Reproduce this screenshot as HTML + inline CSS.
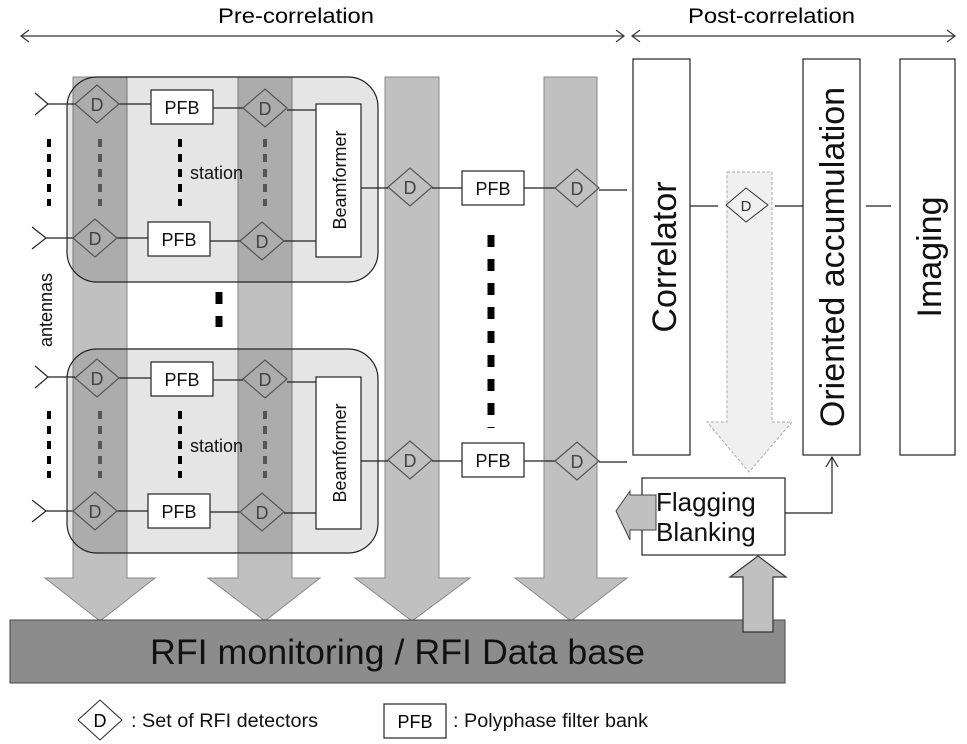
<!DOCTYPE html>
<html><head><meta charset="utf-8"><style>
html,body{margin:0;padding:0;background:#fff;}
svg{display:block;font-family:"Liberation Sans",sans-serif;}
</style></head><body>
<svg width="967" height="744" viewBox="0 0 967 744" xmlns="http://www.w3.org/2000/svg">
<defs>
<g id="dm"><polygon points="-22,0 0,-19 22,0 0,19" fill="none" stroke="#555" stroke-width="1.2"/><text x="0" y="7" font-size="18" text-anchor="middle" fill="#444">D</text></g>
</defs>
<!-- top arrows -->
<text x="218" y="23" font-size="21" textLength="156" lengthAdjust="spacingAndGlyphs">Pre-correlation</text>
<text x="688" y="23" font-size="21" textLength="167" lengthAdjust="spacingAndGlyphs">Post-correlation</text>
<g stroke="#333" stroke-width="1.2" fill="none">
<line x1="21" y1="36" x2="624" y2="36"/><polyline points="29,30 21,36 29,42"/><polyline points="616,30 624,36 616,42"/>
<line x1="632" y1="36" x2="955" y2="36"/><polyline points="640,30 632,36 640,42"/><polyline points="947,30 955,36 947,42"/>
</g>
<!-- big down arrows -->
<g fill="#c0c0c0" stroke="#888" stroke-width="1">
<polygon points="73,77 127,77 127,578 155,578 100,621 45,578 73,578"/>
<polygon points="238,77 292,77 292,578 320,578 265,621 208,578 238,578"/>
<polygon points="385,77 439,77 439,578 470,578 412,621 355,578 385,578"/>
<polygon points="544,77 597,77 597,578 627,578 571,621 515,578 544,578"/>
</g>
<!-- station boxes -->
<rect x="67" y="77" width="311" height="205" rx="30" fill="#000" fill-opacity="0.1" stroke="#222" stroke-width="1.2"/>
<rect x="67" y="349" width="311" height="204" rx="30" fill="#000" fill-opacity="0.1" stroke="#222" stroke-width="1.2"/>
<!-- bottom bar -->
<rect x="10" y="620" width="775" height="63" fill="#8c8c8c" stroke="#444" stroke-width="1"/>
<text x="150" y="664" font-size="35" textLength="495" lengthAdjust="spacingAndGlyphs" fill="#111">RFI monitoring / RFI Data base</text>
<!-- station 1 -->
<g stroke="#222" stroke-width="1.2" fill="none">
<polyline points="35,93 48,104 35,115"/><polyline points="32,227 46,238 32,249"/>
<line x1="48" y1="104" x2="75" y2="104"/><line x1="46" y1="238" x2="73" y2="238"/>
<line x1="119" y1="104" x2="151" y2="104"/><line x1="213" y1="108" x2="243" y2="108"/>
<line x1="117" y1="238" x2="148" y2="238"/><line x1="210" y1="241" x2="240" y2="241"/>
<line x1="287" y1="110" x2="316" y2="110"/><line x1="284" y1="241" x2="316" y2="241"/>
<line x1="361" y1="188" x2="388" y2="188"/><line x1="432" y1="188" x2="462" y2="188"/><line x1="524" y1="188" x2="555" y2="188"/><line x1="599" y1="190" x2="627" y2="190"/>
<polyline points="35,366 48,377 35,388"/><polyline points="32,500 46,511 32,522"/>
<line x1="48" y1="377" x2="75" y2="377"/><line x1="46" y1="511" x2="73" y2="511"/>
<line x1="119" y1="378" x2="151" y2="378"/><line x1="213" y1="380" x2="243" y2="380"/>
<line x1="117" y1="511" x2="148" y2="511"/><line x1="210" y1="512" x2="240" y2="512"/>
<line x1="287" y1="382" x2="316" y2="382"/><line x1="284" y1="513" x2="316" y2="513"/>
<line x1="361" y1="461" x2="388" y2="461"/><line x1="432" y1="461" x2="462" y2="461"/><line x1="524" y1="461" x2="555" y2="461"/><line x1="599" y1="462" x2="627" y2="462"/>
</g>
<use href="#dm" x="97" y="104"/><use href="#dm" x="265" y="108"/><use href="#dm" x="95" y="238"/><use href="#dm" x="262" y="241"/>
<use href="#dm" x="410" y="187"/><use href="#dm" x="577" y="188"/>
<use href="#dm" x="97" y="378"/><use href="#dm" x="265" y="379"/><use href="#dm" x="95" y="511"/><use href="#dm" x="262" y="512"/>
<use href="#dm" x="410" y="460"/><use href="#dm" x="577" y="461"/>
<g fill="#fff" stroke="#222" stroke-width="1.2">
<rect x="151" y="90" width="62" height="34"/><rect x="148" y="222" width="62" height="34"/>
<rect x="316" y="104" width="45" height="153"/>
<rect x="462" y="171" width="62" height="34"/>
<rect x="151" y="362" width="62" height="34"/><rect x="148" y="494" width="62" height="34"/>
<rect x="316" y="377" width="45" height="152"/>
<rect x="462" y="443" width="62" height="34"/>
</g>
<g font-size="18" text-anchor="middle" fill="#111">
<text x="182" y="114">PFB</text><text x="179" y="246">PFB</text><text x="493" y="195">PFB</text>
<text x="182" y="386">PFB</text><text x="179" y="518">PFB</text><text x="493" y="467">PFB</text>
</g>
<text x="346" y="180" font-size="18" text-anchor="middle" transform="rotate(-90 346 180)" fill="#111">Beamformer</text>
<text x="346" y="453" font-size="18" text-anchor="middle" transform="rotate(-90 346 453)" fill="#111">Beamformer</text>
<text x="190" y="179" font-size="18" fill="#111">station</text>
<text x="190" y="452" font-size="18" fill="#111">station</text>
<text x="52" y="310" font-size="18" text-anchor="middle" transform="rotate(-90 52 310)" fill="#111">antennas</text>
<!-- dots -->
<g stroke-width="4" fill="none" stroke-dasharray="8,7">
<line x1="49" y1="139" x2="49" y2="206" stroke="#000"/><line x1="100" y1="139" x2="100" y2="206" stroke="#555"/><line x1="180" y1="139" x2="180" y2="206" stroke="#000"/><line x1="265" y1="139" x2="265" y2="206" stroke="#555"/>
<line x1="49" y1="411" x2="49" y2="478" stroke="#000"/><line x1="100" y1="411" x2="100" y2="478" stroke="#555"/><line x1="180" y1="411" x2="180" y2="478" stroke="#000"/><line x1="265" y1="411" x2="265" y2="478" stroke="#555"/>
</g>
<g stroke="#000" stroke-width="7" fill="none" stroke-dasharray="12,12">
<line x1="219" y1="292" x2="219" y2="327"/>
<line x1="491" y1="235" x2="491" y2="428"/>
</g>
<!-- post correlation -->
<polygon points="727,172 772,172 772,422 792,422 749,472 707,422 727,422" fill="#f0f0f0" stroke="#aaa" stroke-dasharray="3,2"/>
<g fill="#fff" stroke="#222" stroke-width="1.2">
<rect x="633" y="59" width="57" height="396"/>
<rect x="803" y="59" width="57" height="396"/>
<rect x="900" y="59" width="55" height="396"/>
</g>
<g stroke="#222" stroke-width="1.2" fill="none">
<line x1="690" y1="206" x2="718" y2="206"/><line x1="775" y1="206" x2="803" y2="206"/><line x1="866" y1="206" x2="891" y2="206"/>
<polyline points="785,513 832,513 832,457"/><polyline points="826,467 832,457 838,467"/>
</g>
<polygon points="726,205 746,188 768,205 746,222" fill="none" stroke="#333"/>
<text x="746" y="211" font-size="15" text-anchor="middle" fill="#333">D</text>
<text x="676" y="257" font-size="34" text-anchor="middle" transform="rotate(-90 676 257)" fill="#111">Correlator</text>
<text x="844" y="257" font-size="34" text-anchor="middle" transform="rotate(-90 844 257)" fill="#111">Oriented accumulation</text>
<text x="941" y="257" font-size="34" text-anchor="middle" transform="rotate(-90 941 257)" fill="#111">Imaging</text>
<rect x="642" y="478" width="143" height="77" fill="#fff" stroke="#222" stroke-width="1.2"/>
<text x="656" y="511" font-size="26" fill="#111">Flagging</text>
<text x="656" y="541" font-size="26" fill="#111">Blanking</text>
<polygon points="656,495 630,495 630,491 616,511 630,540 630,530 656,530" fill="#c0c0c0" stroke="#444"/>
<polygon points="743,632 773,632 773,577 786,577 758,556 730,577 743,577" fill="#c0c0c0" stroke="#333" stroke-width="1.2"/>
<!-- legend -->
<polygon points="78,720 100,700 122,720 100,740" fill="#fff" stroke="#222"/>
<text x="100" y="727" font-size="18" text-anchor="middle">D</text>
<text x="131" y="727" font-size="19" textLength="187" lengthAdjust="spacingAndGlyphs" fill="#111">: Set of RFI detectors</text>
<rect x="384" y="704" width="62" height="34" fill="#fff" stroke="#222" stroke-width="1.2"/>
<text x="415" y="728" font-size="18" text-anchor="middle">PFB</text>
<text x="453" y="727" font-size="19" textLength="195" lengthAdjust="spacingAndGlyphs" fill="#111">: Polyphase filter bank</text>
</svg>
</body></html>
